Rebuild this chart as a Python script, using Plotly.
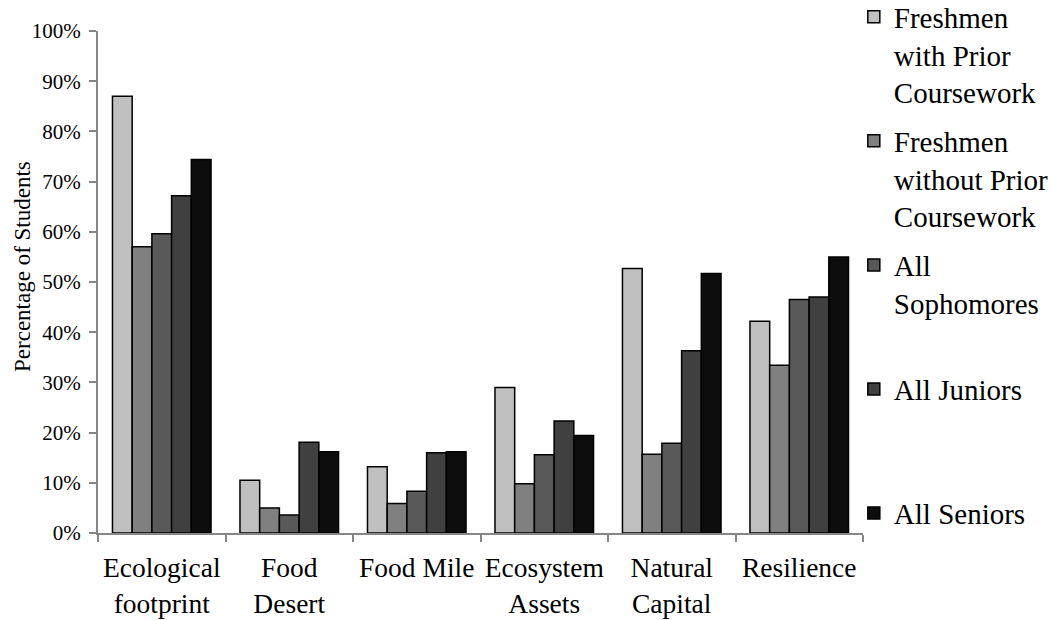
import plotly.graph_objects as go

# Concepts surveyed, with the share of each student group that recognised them
concepts = ["Ecological<br>footprint", "Food<br>Desert", "Food Mile",
            "Ecosystem<br>Assets", "Natural<br>Capital", "Resilience"]

freshmen_prior = [0.870, 0.105, 0.132, 0.290, 0.527, 0.422]
freshmen_no_prior = [0.570, 0.050, 0.059, 0.098, 0.157, 0.334]
sophomores = [0.596, 0.036, 0.083, 0.156, 0.179, 0.465]
juniors = [0.672, 0.181, 0.160, 0.223, 0.363, 0.470]
seniors = [0.744, 0.162, 0.162, 0.194, 0.517, 0.550]

series_names = [
    "Freshmen<br>with Prior<br>Coursework",
    "Freshmen<br>without Prior<br>Coursework",
    "All<br>Sophomores<br> ",
    "All Juniors<br> <br> ",
    "All Seniors",
]
series_values = [freshmen_prior, freshmen_no_prior, sophomores, juniors, seniors]
series_colors = ["#C0C0C0", "#808080", "#595959", "#404040", "#0D0D0D"]

y_ticks = [i / 10 for i in range(11)]

FONT = "Liberation Serif, Times New Roman, serif"
AXIS_GREY = "#868686"

fig = go.Figure()
for name, vals, color in zip(series_names, series_values, series_colors):
    fig.add_trace(go.Bar(
        x=concepts, y=vals, name=name,
        marker=dict(color=color, line=dict(color="#000000", width=1.5)),
        legendgroup=name,
    ))

fig.update_layout(
    width=1052, height=620,
    margin=dict(l=98, r=189, t=31, b=87, autoexpand=False),
    paper_bgcolor="white", plot_bgcolor="white",
    font=dict(family=FONT, color="black"),
    barmode="group", bargap=0.227, bargroupgap=0,
    showlegend=True,
    legend=dict(
        x=0.988, xanchor="left", y=1.079, yanchor="top",
        font=dict(family=FONT, size=29, color="black"),
        valign="top", tracegroupgap=8, traceorder="grouped",
        bgcolor="rgba(0,0,0,0)", maxheight=620,
    ),
    xaxis=dict(
        showline=True, linecolor=AXIS_GREY, linewidth=2,
        ticks="outside", tickson="boundaries", ticklen=7,
        tickcolor=AXIS_GREY, tickwidth=1.5, tickangle=0,
        ticklabelstandoff=9,
        tickfont=dict(family=FONT, size=27.5, color="black"),
        showgrid=False, zeroline=False, automargin=False,
    ),
    yaxis=dict(
        range=[0, 1], tickvals=y_ticks, tickformat=".0%",
        showline=True, linecolor=AXIS_GREY, linewidth=2,
        ticks="outside", ticklen=7, tickcolor=AXIS_GREY, tickwidth=1.5,
        ticklabelstandoff=4,
        tickfont=dict(family=FONT, size=21, color="black"),
        showgrid=False, zeroline=False, automargin=False,
    ),
    annotations=[dict(
        text="Percentage of Students", textangle=-90,
        xref="paper", yref="paper", x=-0.098, y=0.53,
        xanchor="center", yanchor="middle", showarrow=False,
        font=dict(family=FONT, size=23, color="black"),
    )],
)

fig.write_html("out.html")
